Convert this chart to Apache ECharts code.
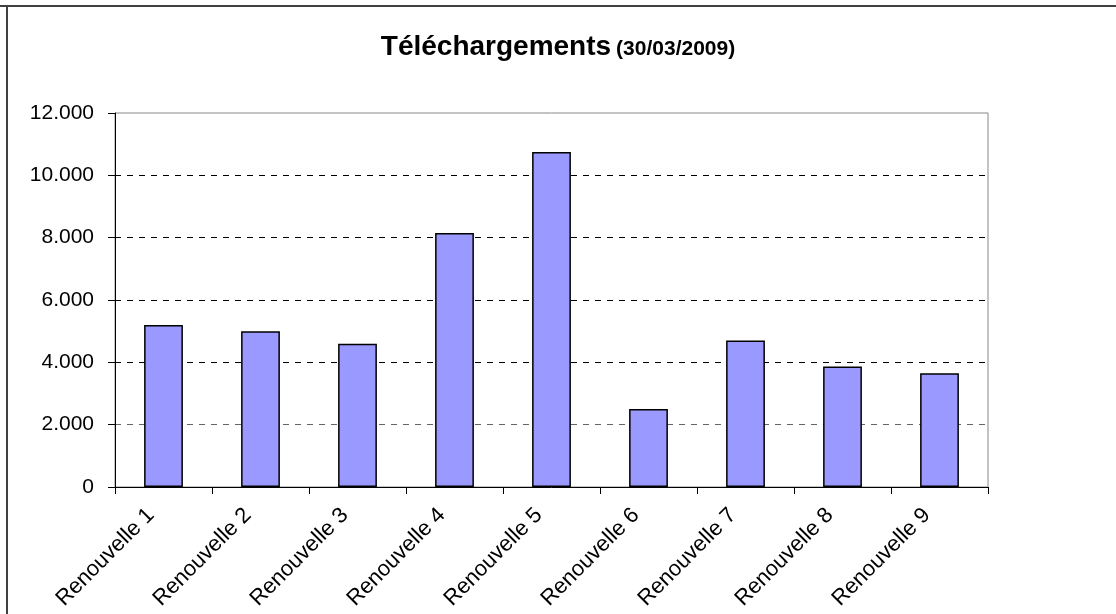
<!DOCTYPE html>
<html>
<head>
<meta charset="utf-8">
<script src="https://cdn.jsdelivr.net/npm/echarts@6/dist/echarts.min.js"></script>
<style>
  html, body { margin: 0; padding: 0; background: #fff; }
  #chart { width: 1116px; height: 614px; }
</style>
</head>
<body>
<div id="chart"></div>
<script>
const categories = ["Renouvelle 1", "Renouvelle 2", "Renouvelle 3", "Renouvelle 4", "Renouvelle 5",
  "Renouvelle 6", "Renouvelle 7", "Renouvelle 8", "Renouvelle 9"];
const downloads = [5200, 5000, 4600, 8150, 10750, 2500, 4700, 3870, 3650];

// 12000 -> "12.000"
function fmt(v) {
  return String(v).replace(/\B(?=(\d{3})+(?!\d))/g, ".");
}

const chart = echarts.init(document.getElementById("chart"));
chart.setOption({
  animation: false,
  backgroundColor: "#fff",
  textStyle: { fontFamily: "Liberation Sans, Arial, sans-serif" },
  title: {
    text: "{a|Téléchargements} {b|(30/03/2009)}",
    left: "center",
    top: 28,
    textStyle: {
      rich: {
        a: { fontSize: 28, fontWeight: "bold", color: "#000", fontFamily: "Liberation Sans, Arial" },
        b: { fontSize: 21, fontWeight: "bold", color: "#000", fontFamily: "Liberation Sans, Arial", padding: [5, 0, 0, 0] }
      }
    }
  },
  graphic: [
    { type: "line", shape: { x1: 0, y1: 6, x2: 1116, y2: 6 }, style: { stroke: "#404040", lineWidth: 2 } },
    { type: "line", shape: { x1: 7, y1: 6, x2: 7, y2: 614 }, style: { stroke: "#404040", lineWidth: 2 } }
  ],
  grid: { left: 115, right: 128, top: 113, bottom: 127, show: true, borderColor: "#888", borderWidth: 1 },
  xAxis: {
    type: "category",
    data: categories,
    axisLine: { lineStyle: { color: "#000", width: 1 } },
    axisTick: { show: true, length: 7, lineStyle: { color: "#000" } },
    axisLabel: { rotate: 45, fontSize: 22, color: "#000", margin: 12, padding: [0, 18, 0, 0] }
  },
  yAxis: {
    type: "value",
    min: 0,
    max: 12000,
    interval: 2000,
    axisLine: { show: true, lineStyle: { color: "#000", width: 1 } },
    axisTick: { show: true, length: 7, lineStyle: { color: "#000" } },
    axisLabel: { fontSize: 21, color: "#000", margin: 21, formatter: fmt },
    splitLine: {
      show: true,
      lineStyle: {
        color: ["rgba(0,0,0,0)", "#666", "#000", "#000", "#000", "#000", "rgba(0,0,0,0)"],
        type: [6, 6],
        width: 1
      }
    }
  },
  series: [{
    type: "bar",
    data: downloads,
    barWidth: "40%",
    itemStyle: { color: "#9999FF", borderColor: "#000", borderWidth: 1.5 }
  }]
});
</script>
</body>
</html>
